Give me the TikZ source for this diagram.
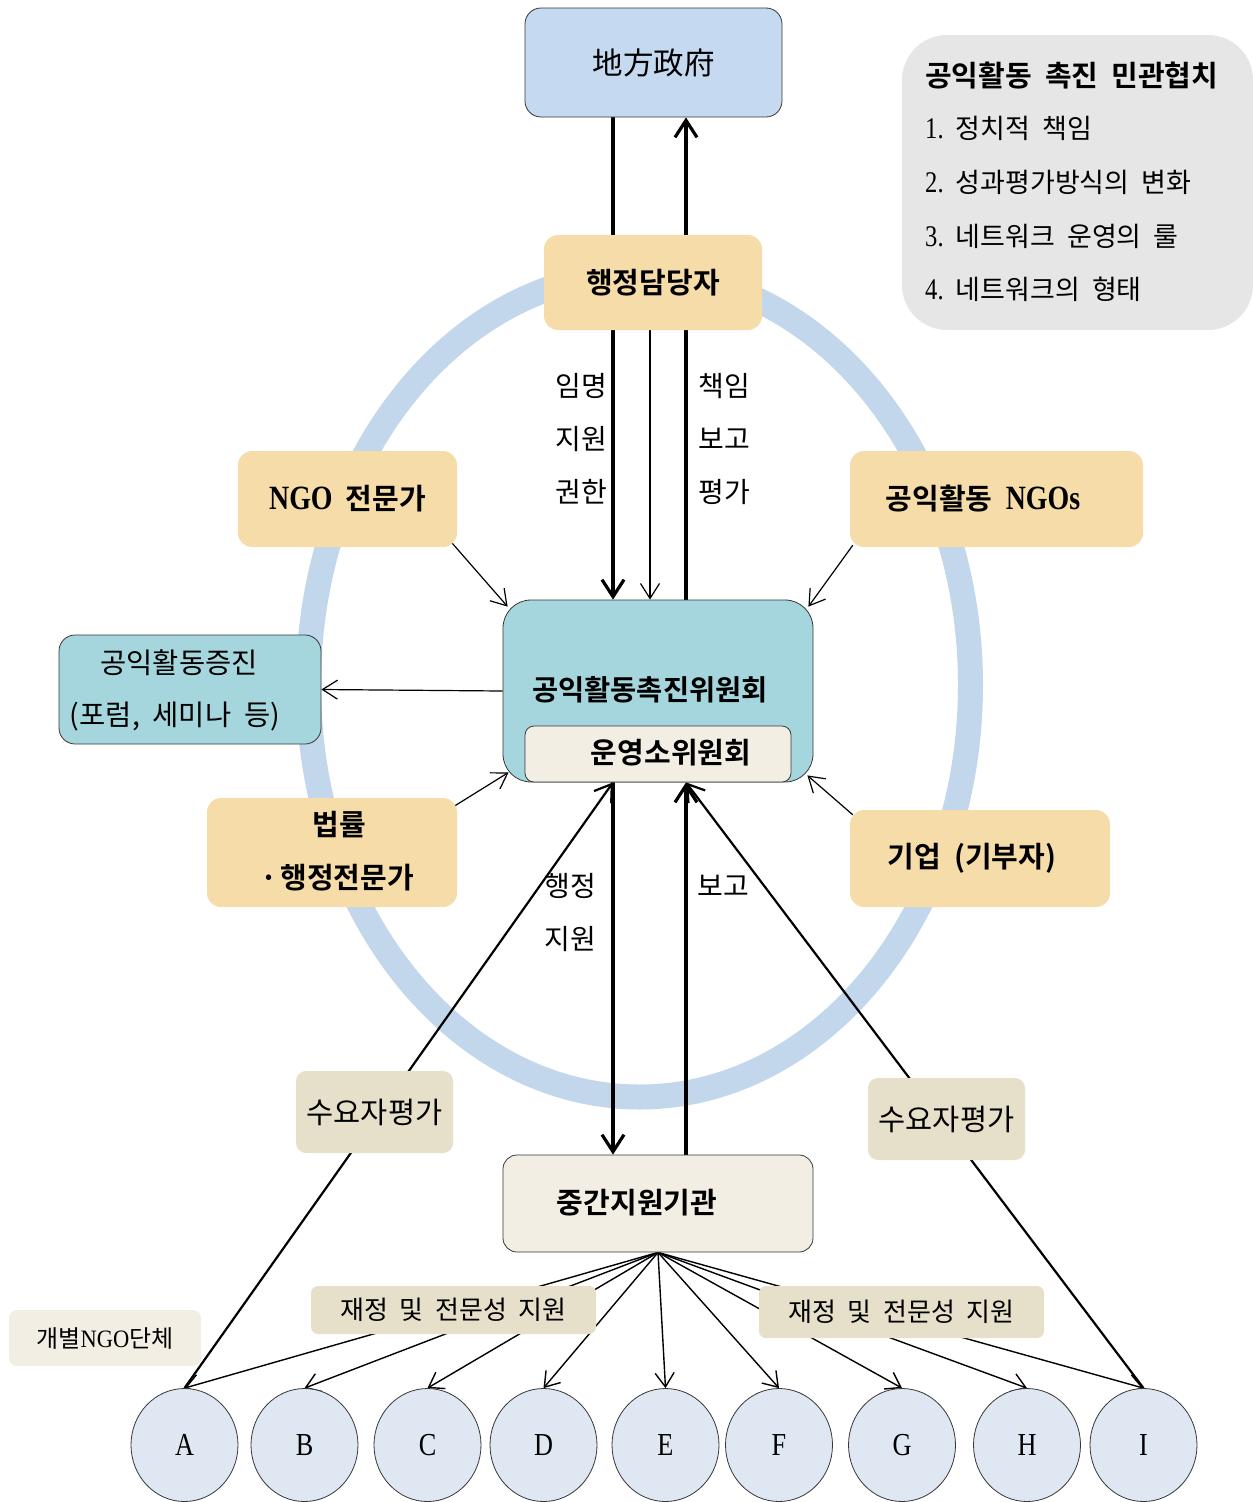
\documentclass[tikz,border=0pt]{standalone}
\usepackage{fontspec}
\newfontfamily\kr{Noto Sans CJK KR}[WordSpace=2.0,BoldFont={Noto Sans CJK KR Bold}]
\newfontfamily\lat{Liberation Serif}
\usetikzlibrary{arrows.meta,shapes.geometric,calc}
\pgfdeclarelayer{bg}\pgfdeclarelayer{lines}
\pgfsetlayers{bg,lines,main}
\newcommand\K[1]{\kr\fontsize{#1}{#1}\selectfont}
\newcommand\KB[1]{\kr\bfseries\fontsize{#1}{#1}\selectfont}
\newcommand\LT[2]{{\lat\fontsize{#1}{#1}\selectfont\scalebox{0.82}[1]{#2}}}
\definecolor{govc}{RGB}{197,217,240}
\definecolor{wheatc}{RGB}{246,220,168}
\definecolor{tealc}{RGB}{166,214,221}
\definecolor{creamc}{RGB}{242,238,228}
\definecolor{beigec}{RGB}{230,224,202}
\definecolor{ringc}{RGB}{194,214,236}
\definecolor{circc}{RGB}{222,231,242}
\definecolor{legc}{RGB}{230,230,230}
\definecolor{edgec}{RGB}{55,55,55}
\begin{document}
\begin{tikzpicture}[x=1pt,y=-1pt,
  box/.style={rectangle, rounded corners=14pt, inner sep=0pt},
  wbox/.style={box, fill=wheatc},
  bbox/.style={box, fill=beigec, rounded corners=10pt},
  lbl/.style={font=\K{28}, inner sep=0pt},
  thk/.style={line width=3.2pt, -{Straight Barb[length=17pt,width=22pt]}},
  thn/.style={line width=1.2pt, -{Straight Barb[length=15pt,width=19pt]}},
  fan/.style={line width=1.4pt, -{Straight Barb[length=14pt,width=19pt]}},
  diag/.style={line width=2.2pt, -{Straight Barb[length=16pt,width=21pt]}},
  circ/.style={ellipse, draw=edgec, line width=0.8pt, fill=circc, minimum width=107pt, minimum height=113pt, inner sep=0pt}
]
\useasboundingbox (0,0) rectangle (1253,1502);

% ring
\begin{pgfonlayer}{bg}
\draw[ringc, line width=25pt] (639.5,685) ellipse [x radius=331pt, y radius=412pt];
\end{pgfonlayer}

% reference columns for the vertical connectors
\coordinate (xL) at (613,0);
\coordinate (xM) at (650,0);
\coordinate (xR) at (686,0);

% boxes
\node[box, fill=govc, draw=edgec, line width=0.8pt, rounded corners=16pt, minimum width=257pt, minimum height=109pt, font=\K{30.5}] (gov) at (653.5,62.5) {地方政府};
\node[wbox, minimum width=218pt, minimum height=95pt, font=\KB{29}] (adm) at (653,282.5) {행정담당자};

\node[box, fill=legc, rounded corners=45pt, minimum width=351pt, minimum height=295pt] (leg) at (1077.5,182.5) {};
\node[anchor=west, font=\KB{29}, inner sep=0pt] (lt) at (925,76) {공익활동 촉진 민관협치};
\node[anchor=west, font=\K{27}, inner sep=0pt] (l1) at (925,128) {\LT{30}{1.} 정치적 책임};
\node[anchor=west, font=\K{27}, inner sep=0pt] (l2) at (925,182) {\LT{30}{2.} 성과평가방식의 변화};
\node[anchor=west, font=\K{27}, inner sep=0pt] (l3) at (925,236) {\LT{30}{3.} 네트워크 운영의 룰};
\node[anchor=west, font=\K{27}, inner sep=0pt] (l4) at (925,289) {\LT{30}{4.} 네트워크의 형태};

\node[box, fill=tealc, draw=edgec, line width=0.8pt, rounded corners=28pt, minimum width=310pt, minimum height=182pt] (comm) at (658,691) {};
\node[font=\KB{28.5}, inner sep=0pt] (commt) at (650,690) {공익활동촉진위원회};
\node[box, fill=creamc, draw=edgec, line width=0.8pt, rounded corners=9pt, minimum width=266pt, minimum height=56pt] (sub) at (658,754) {};
\node[font=\KB{29}, inner sep=0pt] (subt) at (671,753) {운영소위원회};

\node[wbox, minimum width=219pt, minimum height=96pt, font=\KB{29}] (ngoexp) at (347.5,499) {\LT{34}{NGO} 전문가};
\node[wbox, minimum width=293pt, minimum height=96pt] (ngos) at (996.5,499) {};
\node[font=\KB{29}, inner sep=0pt] (ngost) at (983,499) {공익활동 \LT{34}{NGOs}};
\node[wbox, minimum width=250pt, minimum height=109pt] (law) at (332,852.5) {};
\node[font=\KB{29}, inner sep=0pt] (law1) at (339,825) {법률};
\node[font=\KB{29}, inner sep=0pt] (law2) at (337,878) {·\hspace{3pt}행정전문가};
\node[wbox, minimum width=260pt, minimum height=97pt] (corp) at (980,858.5) {};
\node[font=\KB{29}, inner sep=0pt] (corpt) at (972,858) {기업 (기부자)};

\node[box, fill=tealc, draw=edgec, line width=0.8pt, rounded corners=16pt, minimum width=262pt, minimum height=109pt] (prom) at (190,689.5) {};
\node[font=\K{28.5}, inner sep=0pt] (prom1) at (179,663) {공익활동증진};
\node[font=\K{28.5}, inner sep=0pt] (prom2) at (175,716) {(포럼, 세미나 등)};

\node[box, fill=creamc, draw=edgec, line width=0.8pt, rounded corners=14pt, minimum width=310pt, minimum height=97pt] (mid) at (658,1203.5) {};
\node[font=\KB{29}, inner sep=0pt] (midt) at (637,1203) {중간지원기관};

\node[bbox, minimum width=157pt, minimum height=82pt, font=\K{29.5}] (evalL) at (374.5,1112) {수요자평가};
\node[bbox, minimum width=157pt, minimum height=82pt, font=\K{29.5}] (evalR) at (946.5,1119) {수요자평가};
\node[bbox, rounded corners=7pt, minimum width=285pt, minimum height=48pt, font=\K{26}] (supL) at (453.5,1310) {재정 및 전문성 지원};
\node[bbox, rounded corners=7pt, minimum width=285pt, minimum height=52pt, font=\K{26}] (supR) at (901.5,1312) {재정 및 전문성 지원};
\node[box, fill=creamc, rounded corners=8pt, minimum width=192pt, minimum height=56pt, font=\K{24}] (indiv) at (105,1338) {개별{\lat\fontsize{25}{25}\selectfont\scalebox{0.9}[1]{NGO}}단체};

% circles
\node[circ] (A) at (184.5,1445) {\LT{32}{A}};
\node[circ] (B) at (304.5,1445) {\LT{32}{B}};
\node[circ] (C) at (427.5,1445) {\LT{32}{C}};
\node[circ] (D) at (543.5,1445) {\LT{32}{D}};
\node[circ] (E) at (665.5,1445) {\LT{32}{E}};
\node[circ] (F) at (779,1445) {\LT{32}{F}};
\node[circ] (G) at (902,1445) {\LT{32}{G}};
\node[circ] (H) at (1027,1445) {\LT{32}{H}};
\node[circ] (I) at (1143.5,1445) {\LT{32}{I}};

% labels on connectors
\node[lbl] (m1) at (581,386) {임명};
\node[lbl] (m2) at (581,439) {지원};
\node[lbl] (m3) at (581,492) {권한};
\node[lbl] (r1) at (724,386) {책임};
\node[lbl] (r2) at (724,439) {보고};
\node[lbl] (r3) at (724,492) {평가};
\node[lbl] (b1) at (570,886) {행정};
\node[lbl] (b2) at (570,939) {지원};
\node[lbl] (b3) at (723,886) {보고};

% connectors
\begin{pgfonlayer}{lines}
\draw[thk] (xL |- gov.south) -- (xL |- comm.north);
\draw[thk] (xR |- comm.north) -- (xR |- gov.south);
\draw[thn] (xM |- adm.south) -- (xM |- comm.north);

\draw[thn] ($(ngoexp.south east)+(-5,-4)$) -- ($(comm.north west)+(5,7)$);
\draw[thn] ($(ngos.south west)+(3,-2)$) -- ($(comm.north east)+(-5,7)$);
\draw[thn] ($(law.north east)+(-4,9)$) -- ($(comm.south west)+(6,-10)$);
\draw[thn] ($(corp.north west)+(3,5)$) -- ($(comm.south east)+(-6,-7)$);
\draw[thn] (comm.west) -- (prom.east);

\draw[thk] (xL |- comm.south) -- (xL |- mid.north);
\draw[thk] (xR |- mid.north) -- (xR |- comm.south);
\draw[diag] (A.north) -- (xL |- comm.south);
\draw[diag] (I.north) -- (xR |- comm.south);

\foreach \n in {A,B,C,D,E,F,G,H,I}{
  \draw[fan] (mid.south) -- (\n.north);
}
\end{pgfonlayer}
\end{tikzpicture}
\end{document}
